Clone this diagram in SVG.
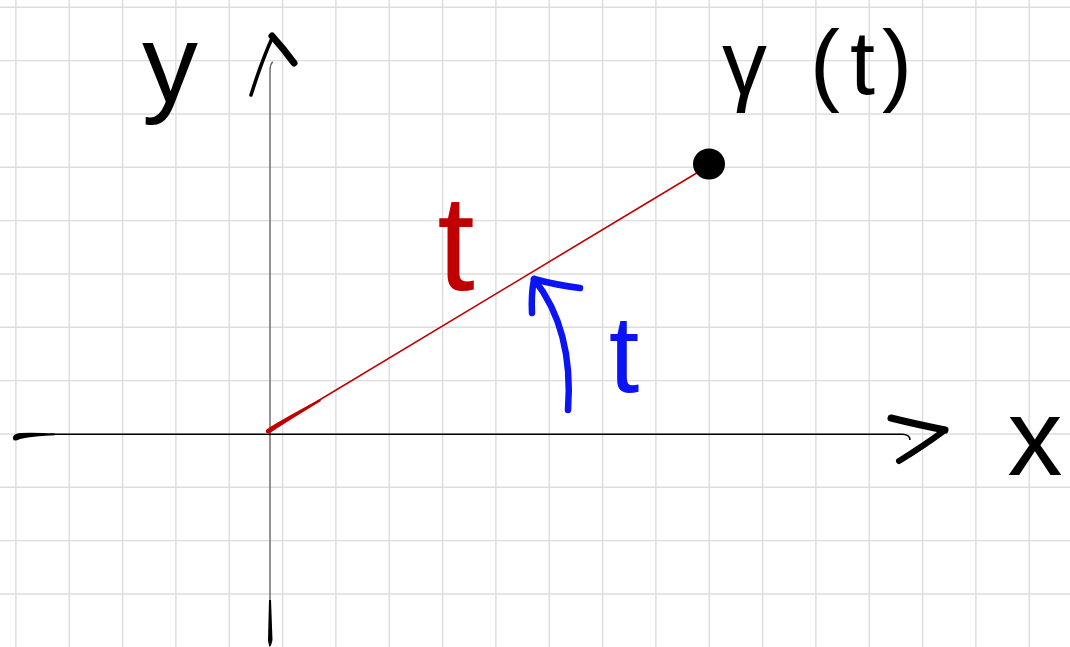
<svg xmlns="http://www.w3.org/2000/svg" width="1070" height="647" viewBox="0 0 1070 647">
<defs>
<style>
.grid line{stroke:#dcdcdc;stroke-width:1.4}
.ink{fill:none;stroke:#000;stroke-linecap:round;stroke-linejoin:round}
.lbl{font-family:"Liberation Sans",Arial,sans-serif}
</style>
</defs>
<rect width="1070" height="647" fill="#fff"/>
<g id="grid" class="grid">
<line x1="15.9" y1="0" x2="15.9" y2="647"/><line x1="69.2" y1="0" x2="69.2" y2="647"/><line x1="122.6" y1="0" x2="122.6" y2="647"/><line x1="175.9" y1="0" x2="175.9" y2="647"/><line x1="229.2" y1="0" x2="229.2" y2="647"/><line x1="282.6" y1="0" x2="282.6" y2="647"/><line x1="335.9" y1="0" x2="335.9" y2="647"/><line x1="389.2" y1="0" x2="389.2" y2="647"/><line x1="442.6" y1="0" x2="442.6" y2="647"/><line x1="495.9" y1="0" x2="495.9" y2="647"/><line x1="549.2" y1="0" x2="549.2" y2="647"/><line x1="602.6" y1="0" x2="602.6" y2="647"/><line x1="655.9" y1="0" x2="655.9" y2="647"/><line x1="709.2" y1="0" x2="709.2" y2="647"/><line x1="762.6" y1="0" x2="762.6" y2="647"/><line x1="815.9" y1="0" x2="815.9" y2="647"/><line x1="869.2" y1="0" x2="869.2" y2="647"/><line x1="922.6" y1="0" x2="922.6" y2="647"/><line x1="975.9" y1="0" x2="975.9" y2="647"/><line x1="1029.2" y1="0" x2="1029.2" y2="647"/>
<line x1="0" y1="7.3" x2="1070" y2="7.3"/><line x1="0" y1="60.6" x2="1070" y2="60.6"/><line x1="0" y1="114" x2="1070" y2="114"/><line x1="0" y1="167.3" x2="1070" y2="167.3"/><line x1="0" y1="220.6" x2="1070" y2="220.6"/><line x1="0" y1="274" x2="1070" y2="274"/><line x1="0" y1="327.3" x2="1070" y2="327.3"/><line x1="0" y1="380.6" x2="1070" y2="380.6"/><line x1="0" y1="434" x2="1070" y2="434"/><line x1="0" y1="487.3" x2="1070" y2="487.3"/><line x1="0" y1="540.6" x2="1070" y2="540.6"/><line x1="0" y1="594" x2="1070" y2="594"/>
</g>
<g id="connectors">
<g id="y-axis">
<path d="M273,62 Q270,63 270,72 L270,600" fill="none" stroke="#666" stroke-width="1.4"/>
<path d="M269,600 L271,600 L272.5,640 Q271,647 269.5,647 Q268,642 268,640 Z" fill="#000"/>
<path class="ink" d="M251,95 Q262,60 273,36" stroke-width="3.5"/>
<path class="ink" d="M272,36 Q283,48 294,63" stroke-width="7"/>
</g>
<g id="x-axis">
<path d="M50,434.3 L903,434.3 Q910,435 910,440" fill="none" stroke="#000" stroke-width="1.6"/>
<path d="M13,439 Q12,434 20,433 Q35,432.5 55,433.5 L55,435.3 Q35,436 20,439 Q14,442 13,439 Z" fill="#000"/>
<path class="ink" d="M891,418 Q915,424 945,430" stroke-width="7"/>
<path class="ink" d="M945,430 Q925,445 899,461" stroke-width="6"/>
</g>
<g id="segment">
<path d="M268,431 L710,165" fill="none" stroke="#c00000" stroke-width="1.6"/>
<path d="M266,430 Q270,426 320,399 L321,401 Q280,426 270,433 Q265,434 266,430 Z" fill="#c00000"/>
</g>
<g id="angle-arrow" fill="none" stroke="#0a14f5" stroke-linecap="round" stroke-linejoin="round">
<path d="M568,410 Q574,330 534,279" stroke-width="6.5"/>
<path d="M532,313 Q531,295 534,279 Q556,285 580,288" stroke-width="6.5"/>
</g>
</g>
<g id="point-gamma">
<ellipse cx="709" cy="164" rx="16" ry="15.5" fill="#000"/>
</g>
<g id="label-y"><text class="lbl" x="170" y="102" font-size="112" text-anchor="middle">y</text></g>
<g id="label-x"><text class="lbl" x="1035" y="475" font-size="110" text-anchor="middle">x</text></g>
<g id="label-gamma-t"><text class="lbl" y="94" font-size="90"><tspan x="722">γ</tspan><tspan x="810">(</tspan><tspan x="850">t</tspan><tspan x="882">)</tspan></text></g>
<g id="label-t-red"><text class="lbl" x="456" y="290" font-size="135" text-anchor="middle" fill="#c00000">t</text></g>
<g id="label-t-blue"><text class="lbl" x="624" y="392" font-size="110" text-anchor="middle" fill="#0a14f5">t</text></g>
</svg>
